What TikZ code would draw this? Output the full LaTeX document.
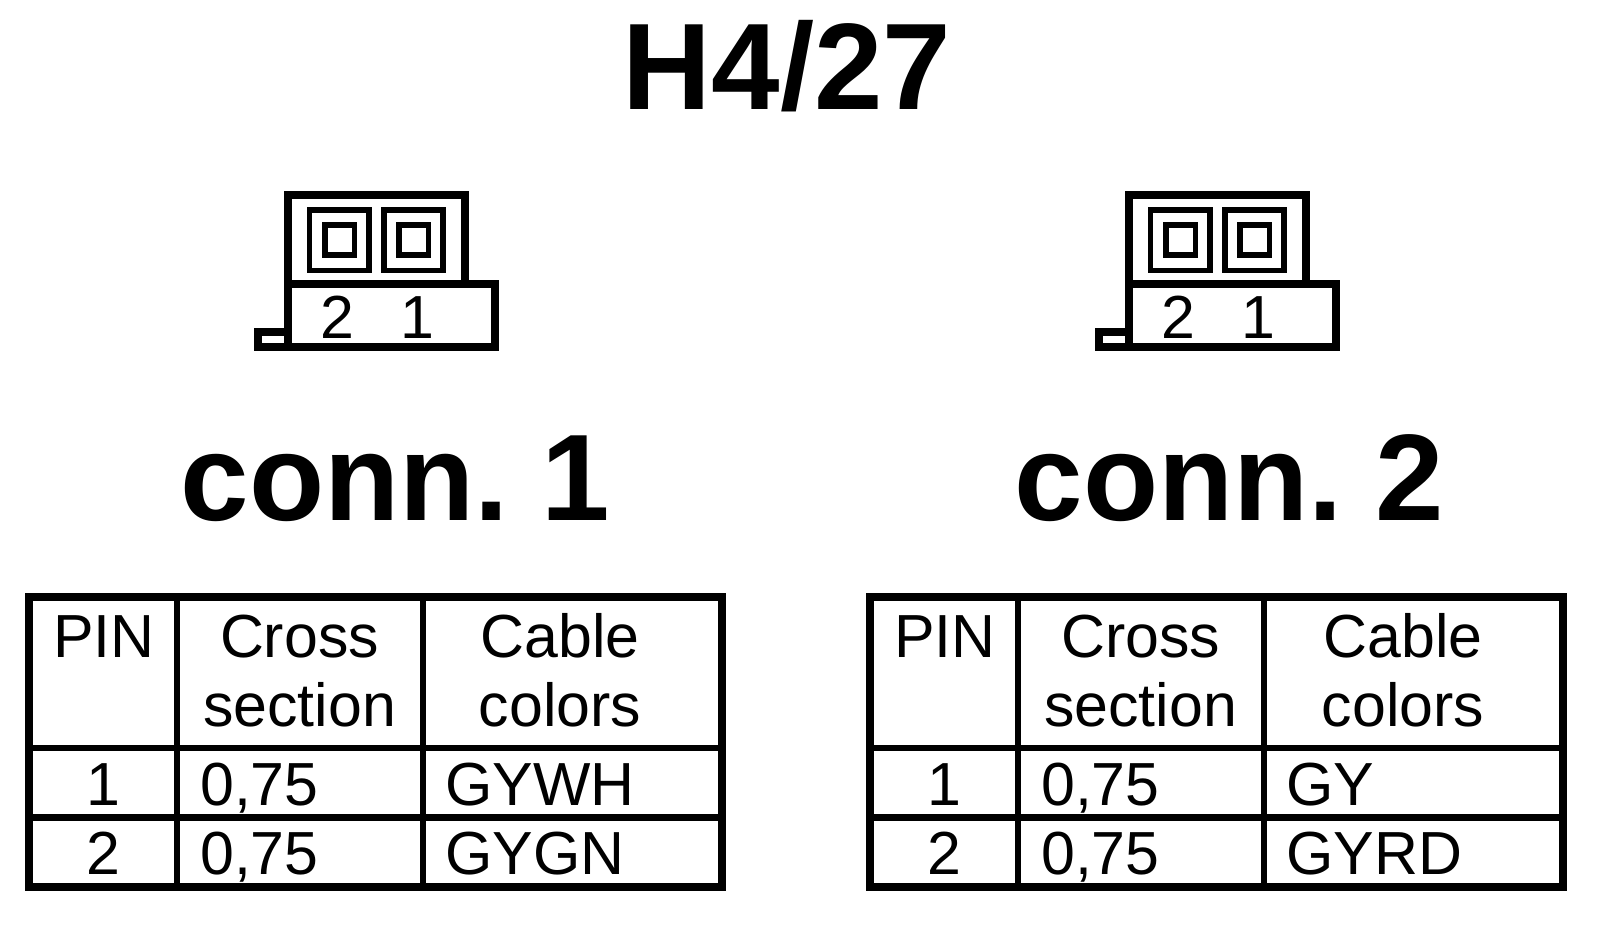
\documentclass[tikz,border=0pt]{standalone}
\usepackage{fontspec}
\setmainfont{Liberation Sans}
\tikzset{
	thickline/.style={line width=0.08cm},
	rowline/.style={line width=0.064cm},
	pinline/.style={line width=0.056cm},
	txt/.style={inner sep=0pt,anchor=base,font=\fontsize{17.3pt}{17.3pt}\selectfont},
	txtl/.style={txt,anchor=base west},
	headtxt/.style={inner sep=0pt,anchor=base west,font=\fontsize{35pt}{35pt}\selectfont\bfseries}
}
\begin{document}
\begin{tikzpicture}[x=0.01cm,y=-0.01cm]
	\useasboundingbox (0,0) rectangle (1600,930);
	\node[headtxt] (title) at (622,109) {H4/27};
	\foreach \dx/\cn/\cola/\colb/\cabx/\conx in {0/1/GYWH/GYGN/560/180,841/2/GY/GYRD/562/173}{
		\begin{scope}[xshift=\dx*0.01cm]
			% connector
			\draw[thickline] (288,195) rectangle (465,284);
			\draw[thickline] (288,284)--(495,284)--(495,346.5)--(258,346.5)--(258,332)--(288,332);
			\draw[thickline] (288,284)--(288,346.5);
			\draw[pinline] (309.5,210) rectangle (369,270.5);
			\draw[pinline] (325,225) rectangle (354.5,255);
			\draw[pinline] (384,210) rectangle (443,270.5);
			\draw[pinline] (399,225) rectangle (428.5,255);
			\node[txt] (pinb\cn) at (337,338) {2};
			\node[txt] (pina\cn) at (417,338) {1};
			\node[headtxt] (conn\cn) at (\conx,520.7) {conn.\hspace{0.33cm}\cn};
			% table
			\draw[thickline] (29,597) rectangle (722,886.5);
			\draw[rowline] (177,597)--(177,886.5);
			\draw[rowline] (423,597)--(423,886.5);
			\draw[rowline] (29,748)--(722,748);
			\draw[rowline] (29,817.5)--(722,817.5);
			\node[txt] (pin\cn) at (104,657) {PIN};
			\node[txt] (cross\cn) at (299.5,657) {Cross};
			\node[txt] (section\cn) at (299.5,726.5) {section};
			\node[txt] (cable\cn) at (\cabx,657) {Cable};
			\node[txt] (colors\cn) at (\cabx,726.5) {colors};
			\node[txt] (rowa\cn) at (103,805) {1};
			\node[txt] (rowb\cn) at (103,874.5) {2};
			\node[txtl] (seca\cn) at (199.5,805) {0,75};
			\node[txtl] (secb\cn) at (199.5,874.5) {0,75};
			\node[txtl] (cola\cn) at (444.5,805) {\cola};
			\node[txtl] (colb\cn) at (444.5,874.5) {\colb};
		\end{scope}
	}
\end{tikzpicture}
\end{document}
